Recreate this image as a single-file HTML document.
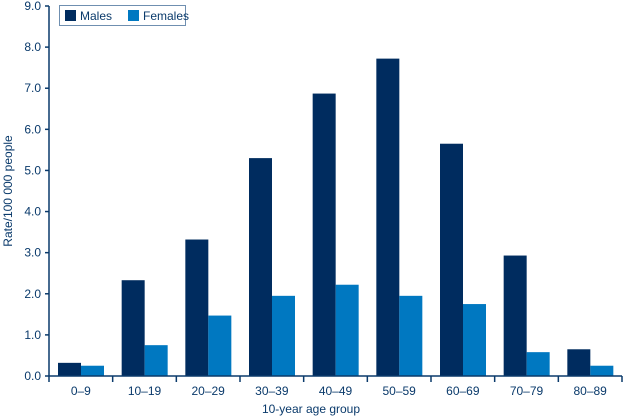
<!DOCTYPE html>
<html><head><meta charset="utf-8"><style>
body{margin:0;background:#fff;}
svg{display:block;font-family:"Liberation Sans",Arial,sans-serif;}
</style></head><body>
<svg id="chart" width="623" height="419">
<g id="bars"></g>
<g id="axes"></g>
<g>
<rect x="59.5" y="5.5" width="126" height="20" fill="#fff" stroke="#6f8fb0" stroke-width="1"/>
<rect x="65" y="10" width="11" height="11" fill="#002c5f"/>
<text x="80" y="20" font-size="12" fill="#0a3a6b">Males</text>
<rect x="128" y="10" width="11" height="11" fill="#0078c1"/>
<text x="143" y="20" font-size="12" fill="#0a3a6b">Females</text>
</g>
<text x="311" y="413" font-size="12" fill="#0a3a6b" text-anchor="middle">10-year age group</text>
<text transform="translate(12,191) rotate(-90)" font-size="12" fill="#0a3a6b" text-anchor="middle">Rate/100 000 people</text>
</svg>
<script>
const categories=["0–9","10–19","20–29","30–39","40–49","50–59","60–69","70–79","80–89"];
const males=[0.32,2.33,3.32,5.3,6.87,7.72,5.65,2.93,0.65];
const females=[0.25,0.75,1.47,1.95,2.22,1.95,1.75,0.58,0.25];
const yTicks=[0,1,2,3,4,5,6,7,8,9];
const NS="http://www.w3.org/2000/svg";
const x0=49,x1=622,yBase=376,yTop=6,yMax=9;
const cw=(x1-x0)/categories.length;
function y(v){return yBase-(v/yMax)*(yBase-yTop);}
function xc(i){return x0+i*cw;}
function mk(tag,attrs,parent){const e=document.createElementNS(NS,tag);for(const k in attrs)e.setAttribute(k,attrs[k]);parent.appendChild(e);return e;}
const bars=document.getElementById('bars'),axes=document.getElementById('axes');
const bw=23;
categories.forEach((c,i)=>{
  const m=mk('rect',{x:xc(i)+9,y:y(males[i]),width:bw,height:yBase-y(males[i]),fill:'#002c5f'},bars);
  
  
  const f=mk('rect',{x:xc(i)+9+bw,y:y(females[i]),width:bw,height:yBase-y(females[i]),fill:'#0078c1'},bars);
  
  
  const t=mk('text',{x:xc(i)+cw/2,y:395,'font-size':12,fill:'#0a3a6b','text-anchor':'middle'},axes);
  t.textContent=c;
  
  
});
for(let i=0;i<=categories.length;i++){
  mk('line',{x1:xc(i),x2:xc(i),y1:yBase,y2:yBase+6,stroke:'#0a3a6b','stroke-width':1.5},axes);
}
yTicks.forEach(v=>{
  mk('line',{x1:x0-4,x2:x0,y1:y(v),y2:y(v),stroke:'#0a3a6b','stroke-width':1.5},axes);
  const t=mk('text',{x:x0-8,y:y(v)+4,'font-size':12,fill:'#0a3a6b','text-anchor':'end'},axes);
  t.textContent=v.toFixed(1);
  
  
});
const ya=mk('line',{x1:x0,x2:x0,y1:yTop,y2:yBase,stroke:'#0a3a6b','stroke-width':1.5},axes);


const xa=mk('line',{x1:x0,x2:x1,y1:yBase,y2:yBase,stroke:'#0a3a6b','stroke-width':1.5},axes);


</script>
</body></html>
